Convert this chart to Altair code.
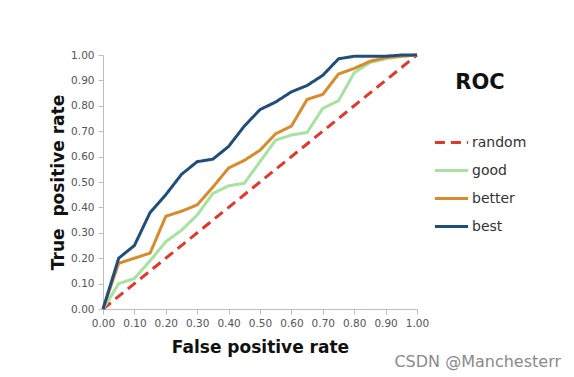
import altair as alt
import pandas as pd

fpr = [0.00, 0.05, 0.10, 0.15, 0.20, 0.25, 0.30, 0.35, 0.40, 0.45, 0.50,
       0.55, 0.60, 0.65, 0.70, 0.75, 0.80, 0.85, 0.90, 0.95, 1.00]
good = [0.00, 0.10, 0.12, 0.19, 0.265, 0.31, 0.37, 0.455, 0.485, 0.495, 0.58,
        0.665, 0.685, 0.695, 0.79, 0.82, 0.93, 0.97, 0.985, 0.995, 1.00]
better = [0.00, 0.18, 0.20, 0.22, 0.365, 0.385, 0.41, 0.48, 0.555, 0.585, 0.625,
          0.69, 0.72, 0.825, 0.845, 0.925, 0.947, 0.975, 0.99, 0.995, 1.00]
best = [0.00, 0.20, 0.25, 0.38, 0.45, 0.53, 0.58, 0.59, 0.64, 0.72, 0.785,
        0.815, 0.855, 0.88, 0.92, 0.985, 0.995, 0.995, 0.995, 1.00, 1.00]
random_fpr = [0.0, 1.0]
random_tpr = [0.0, 1.0]

series_names = ["random", "good", "better", "best"]
series_colors = ["#e2372a", "#a6e3a0", "#d98a2b", "#214d7a"]
series_dash = [[10, 6], [1, 0], [1, 0], [1, 0]]

rows = []
for x, y in zip(random_fpr, random_tpr):
    rows.append({"fpr": x, "tpr": y, "series": "random"})
for name, vals in [("good", good), ("better", better), ("best", best)]:
    for x, y in zip(fpr, vals):
        rows.append({"fpr": x, "tpr": y, "series": name})
df = pd.DataFrame(rows)

ticks = [round(i * 0.1, 1) for i in range(11)]

legend = alt.Legend(title="ROC", orient="none", legendX=330, legendY=17,
                    symbolType="stroke", symbolSize=1100,
                    symbolStrokeWidth=3, titleFontSize=21,
                    titleFont="DejaVu Sans", titleFontWeight="bold",
                    titleColor="#111", titlePadding=31,
                    titleAnchor="middle",
                    labelFontSize=14, labelFont="DejaVu Sans",
                    labelColor="#333", rowPadding=2,
                    labelOffset=2)

lines = alt.Chart(df).mark_line(strokeWidth=3, strokeCap="butt").encode(
    x=alt.X("fpr:Q", scale=alt.Scale(domain=[0, 1], nice=False),
            axis=alt.Axis(values=ticks, format=".2f", title="False positive rate",
                          titlePadding=11, labelOverlap=False, labelFlush=False,
                          labelFontSize=10.5)),
    y=alt.Y("tpr:Q", scale=alt.Scale(domain=[0, 1], nice=False),
            axis=alt.Axis(values=ticks, format=".2f", title="True\u00a0 positive rate",
                          titlePadding=3, labelOverlap=False, labelFlush=False,
                          labelFontSize=10.5)),
    color=alt.Color("series:N",
                    scale=alt.Scale(domain=series_names, range=series_colors),
                    sort=series_names, legend=legend),
    strokeDash=alt.StrokeDash("series:N",
                              scale=alt.Scale(domain=series_names, range=series_dash),
                              sort=series_names, legend=legend),
    order=alt.Order("series_order:Q"),
).transform_calculate(
    series_order="indexof(['good','better','best','random'], datum.series)"
)

watermark = alt.Chart(pd.DataFrame({"t": ["CSDN @Manchesterr"]})).mark_text(
    align="right", baseline="middle", fontSize=16, font="DejaVu Sans",
    color="#8a8a8a"
).encode(x=alt.value(458), y=alt.value(307), text="t:N")

chart = alt.layer(lines, watermark).properties(
    width=314, height=254,
    autosize=alt.AutoSizeParams(type="none"),
    padding={"left": 103, "top": 55, "right": 157, "bottom": 68},
    background="white",
).configure_view(stroke=None).configure_axis(
    grid=False, domainColor="#bdbdbd", tickColor="#bdbdbd", tickSize=5,
    labelColor="#555", labelFont="DejaVu Sans",
    titleFont="DejaVu Sans", titleFontWeight="bold", titleFontSize=17,
    titleColor="#111", labelPadding=4
)

chart.save("out.html", embed_options={"renderer": "svg", "actions": False})
